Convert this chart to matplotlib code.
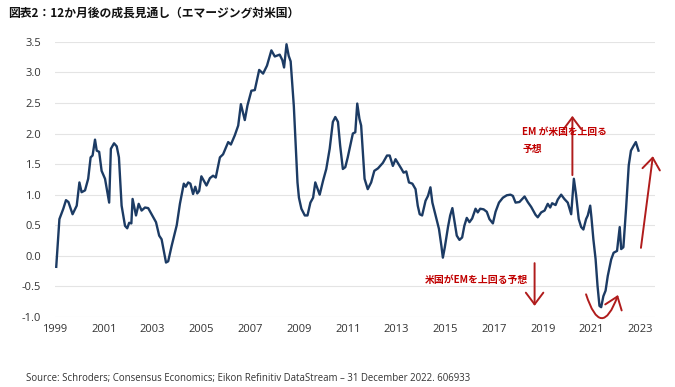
import matplotlib
matplotlib.use("Agg")
from matplotlib import pyplot as plt
from matplotlib.patches import FancyArrowPatch

# 12-month growth outlook, EM vs US
years = [
    1999.05, 1999.18, 1999.34, 1999.45, 1999.55, 1999.72, 1999.89, 2000.00, 2000.09, 2000.23,
    2000.36, 2000.46, 2000.54, 2000.64, 2000.71, 2000.81, 2000.91, 2001.05, 2001.22, 2001.29,
    2001.42, 2001.53, 2001.62, 2001.73, 2001.87, 2001.96, 2002.04, 2002.13, 2002.18, 2002.32,
    2002.43, 2002.55, 2002.69, 2002.82, 2002.96, 2003.14, 2003.27, 2003.37, 2003.55, 2003.64,
    2003.78, 2003.99, 2004.12, 2004.28, 2004.36, 2004.46, 2004.55, 2004.66, 2004.75, 2004.83,
    2004.91, 2005.00, 2005.21, 2005.35, 2005.48, 2005.59, 2005.76, 2005.89, 2006.10, 2006.21,
    2006.37, 2006.51, 2006.62, 2006.78, 2006.89, 2007.05, 2007.19, 2007.37, 2007.53, 2007.69,
    2007.87, 2008.01, 2008.21, 2008.32, 2008.39, 2008.49, 2008.58, 2008.66, 2008.79, 2008.94,
    2009.00, 2009.10, 2009.24, 2009.35, 2009.47, 2009.58, 2009.67, 2009.85, 2009.99, 2010.12,
    2010.26, 2010.39, 2010.49, 2010.60, 2010.69, 2010.80, 2010.90, 2011.00, 2011.21, 2011.31,
    2011.39, 2011.48, 2011.55, 2011.69, 2011.82, 2011.96, 2012.09, 2012.24, 2012.44, 2012.61,
    2012.72, 2012.85, 2012.96, 2013.10, 2013.19, 2013.29, 2013.40, 2013.51, 2013.65, 2013.78,
    2013.87, 2013.95, 2014.05, 2014.19, 2014.29, 2014.39, 2014.47, 2014.60, 2014.74, 2014.84,
    2014.90, 2014.98, 2015.11, 2015.20, 2015.29, 2015.38, 2015.47, 2015.58, 2015.69, 2015.78,
    2015.88, 2015.99, 2016.10, 2016.24, 2016.33, 2016.43, 2016.57, 2016.70, 2016.81, 2016.95,
    2017.06, 2017.20, 2017.36, 2017.52, 2017.67, 2017.77, 2017.88, 2018.04, 2018.25, 2018.38,
    2018.52, 2018.70, 2018.79, 2018.93, 2019.07, 2019.20, 2019.30, 2019.38, 2019.52, 2019.61,
    2019.75, 2019.88, 2020.02, 2020.16, 2020.27, 2020.36, 2020.47, 2020.57, 2020.66, 2020.77,
    2020.84, 2020.94, 2020.99, 2021.07, 2021.16, 2021.24, 2021.32, 2021.39, 2021.48, 2021.57,
    2021.66, 2021.80, 2021.90, 2022.04, 2022.15, 2022.21, 2022.30, 2022.41, 2022.52, 2022.61,
    2022.72, 2022.81, 2022.92,
]
values = [
    -0.18, 0.60, 0.77, 0.91, 0.88, 0.68, 0.82, 1.20, 1.04, 1.07,
    1.26, 1.61, 1.64, 1.90, 1.72, 1.70, 1.39, 1.26, 0.87, 1.75,
    1.84, 1.79, 1.61, 0.82, 0.49, 0.45, 0.54, 0.53, 0.93, 0.66,
    0.85, 0.74, 0.79, 0.78, 0.68, 0.55, 0.33, 0.27, -0.11, -0.09,
    0.16, 0.50, 0.85, 1.18, 1.13, 1.20, 1.18, 1.01, 1.13, 1.02,
    1.06, 1.30, 1.15, 1.27, 1.31, 1.28, 1.61, 1.66, 1.86, 1.82,
    1.97, 2.13, 2.48, 2.22, 2.46, 2.70, 2.71, 3.04, 2.98, 3.11,
    3.36, 3.26, 3.29, 3.20, 3.08, 3.46, 3.27, 3.18, 2.45, 1.20,
    0.95, 0.77, 0.66, 0.66, 0.87, 0.95, 1.20, 1.00, 1.23, 1.42,
    1.75, 2.19, 2.27, 2.19, 1.80, 1.42, 1.45, 1.61, 2.00, 2.02,
    2.49, 2.24, 2.13, 1.26, 1.09, 1.20, 1.39, 1.43, 1.52, 1.64,
    1.64, 1.47, 1.58, 1.49, 1.43, 1.36, 1.38, 1.20, 1.18, 1.09,
    0.82, 0.68, 0.66, 0.90, 0.98, 1.12, 0.87, 0.66, 0.44, 0.16,
    -0.03, 0.14, 0.47, 0.66, 0.78, 0.55, 0.33, 0.26, 0.30, 0.49,
    0.62, 0.55, 0.61, 0.77, 0.71, 0.77, 0.76, 0.72, 0.60, 0.53,
    0.72, 0.87, 0.95, 0.99, 1.00, 0.98, 0.87, 0.88, 0.97, 0.88,
    0.80, 0.67, 0.63, 0.71, 0.74, 0.85, 0.79, 0.86, 0.83, 0.92,
    1.00, 0.93, 0.87, 0.68, 1.26, 1.00, 0.60, 0.47, 0.43, 0.60,
    0.66, 0.82, 0.63, 0.27, -0.05, -0.49, -0.82, -0.84, -0.66, -0.57,
    -0.33, -0.06, 0.05, 0.08, 0.47, 0.11, 0.14, 0.77, 1.48, 1.72,
    1.80, 1.86, 1.72,
]
x_ticks = [1999, 2001, 2003, 2005, 2007, 2009, 2011, 2013, 2015, 2017, 2019, 2021, 2023]
y_ticks = [-1.0, -0.5, 0.0, 0.5, 1.0, 1.5, 2.0, 2.5, 3.0, 3.5]

title = "図表2：12か月後の成長見通し（エマージング対米国）"
label_up = "EM が米国を上回る\n予想"
label_down = "米国がEMを上回る予想"
source = "Source: Schroders; Consensus Economics; Eikon Refinitiv DataStream – 31 December 2022. 606933"

plt.rcParams['font.family'] = ['Open Sans', 'Noto Sans CJK JP', 'DejaVu Sans']
jp_font = ['Noto Sans CJK JP', 'DejaVu Sans']

line_color = '#1c3b64'
red = '#b01c1c'

fig = plt.figure(figsize=(6.75, 3.87), dpi=100)
ax = fig.add_axes([0.0815, 0.181, 0.889, 0.711])

ax.plot(years, values, color=line_color, linewidth=1.7, solid_joinstyle='round', zorder=3)

ax.set_xlim(1999, 2023.6)
ax.set_ylim(-1.0, 3.5)
ax.set_xticks(x_ticks)
ax.set_yticks(y_ticks)
ax.set_yticklabels([f"{v:.1f}" for v in y_ticks])
ax.tick_params(axis='both', length=0, labelsize=8, colors='#333333')
ax.tick_params(axis='y', pad=10)
ax.tick_params(axis='x', pad=5)
ax.grid(axis='y', color='#e4e4e4', linewidth=0.8)
ax.set_axisbelow(True)
for s in ax.spines.values():
    s.set_visible(False)

# annotations
ax.text(2018.16, 1.88, label_up, family=jp_font, fontsize=7, fontweight='bold',
        color='#c00000', ha='left', va='center', linespacing=1.9)
ax.text(2014.15, -0.40, label_down, family=jp_font, fontsize=7.1, fontweight='bold',
        color='#c00000', ha='left', va='center')

arrow_kw = dict(arrowstyle='->,head_length=0.6,head_width=0.45', color=red,
                linewidth=1.4, mutation_scale=14, clip_on=False,
                shrinkA=0, shrinkB=0)
ax.add_patch(FancyArrowPatch((2020.21, 1.32), (2020.21, 2.29), **arrow_kw))
ax.add_patch(FancyArrowPatch((2023.02, 0.13), (2023.51, 1.63), **arrow_kw))
ax.add_patch(FancyArrowPatch((2018.66, -0.12), (2018.66, -0.82), **arrow_kw))
ax.add_patch(FancyArrowPatch((2020.77, -0.63), (2022.08, -0.64),
                             connectionstyle='arc3,rad=1.45', **arrow_kw))

fig.text(0.012, 0.965, title, family=jp_font, fontsize=8.5, fontweight='bold',
         color='#111111', ha='left', va='center')
fig.text(0.0385, 0.023, source, fontsize=6.9, color='#333333', ha='left', va='center')

fig.savefig('out.png', dpi=100)
